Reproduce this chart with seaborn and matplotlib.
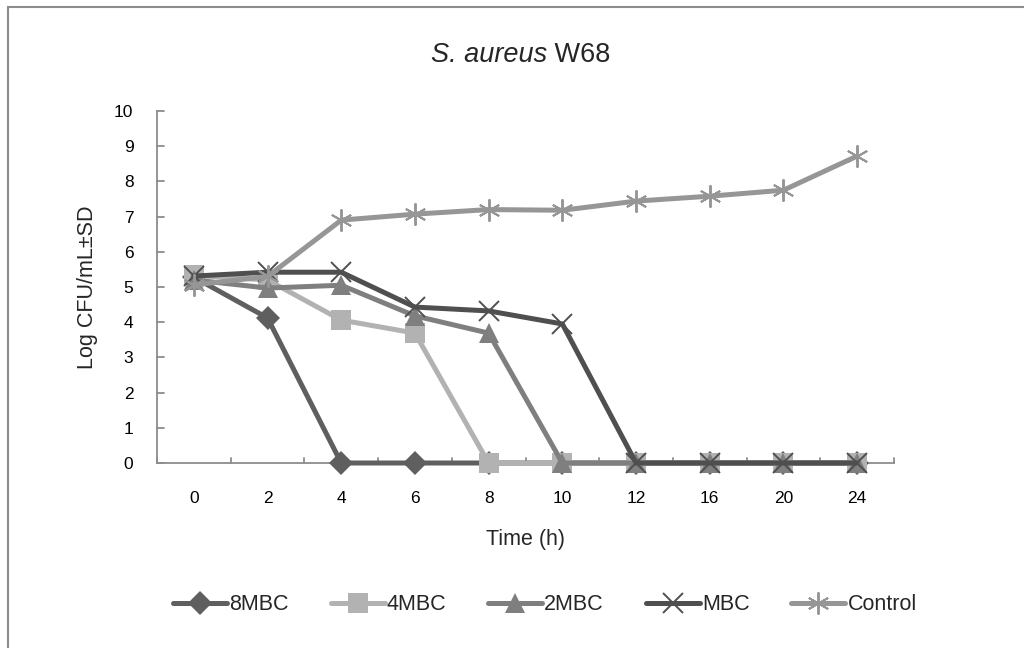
import matplotlib
matplotlib.use("Agg")
import matplotlib.pyplot as plt
import seaborn as sns
import pandas as pd
from matplotlib.patches import Rectangle

time_labels = ["0", "2", "4", "6", "8", "10", "12", "16", "20", "24"]
series_names = ["8MBC", "4MBC", "2MBC", "MBC", "Control"]
v_8mbc = [5.28, 4.12, 0, 0, 0, 0, 0, 0, 0, 0]
v_4mbc = [5.33, 5.20, 4.06, 3.69, 0, 0, 0, 0, 0, 0]
v_2mbc = [5.20, 4.97, 5.05, 4.18, 3.69, 0, 0, 0, 0, 0]
v_mbc = [5.31, 5.42, 5.42, 4.43, 4.32, 3.95, 0, 0, 0, 0]
v_control = [5.06, 5.30, 6.90, 7.07, 7.20, 7.18, 7.44, 7.58, 7.75, 8.72]
y_ticks = [0, 1, 2, 3, 4, 5, 6, 7, 8, 9, 10]

values = [v_8mbc, v_4mbc, v_2mbc, v_mbc, v_control]
rows = []
for name, vals in zip(series_names, values):
    for i, v in enumerate(vals):
        rows.append({"pos": i, "value": v, "series": name})
df = pd.DataFrame(rows)

sns.set_theme(style="white")
plt.rcParams["font.family"] = ["Liberation Sans", "DejaVu Sans"]

colors = {"8MBC": "#5f5f5f", "4MBC": "#b2b2b2", "2MBC": "#7f7f7f",
          "MBC": "#4f4f4f", "Control": "#969696"}
markers = {"8MBC": "D", "4MBC": "s", "2MBC": "^", "MBC": "x", "Control": (6, 2, 0)}
msize = {"8MBC": 12, "4MBC": 14, "2MBC": 14, "MBC": 15, "Control": 16}
mew = {"8MBC": 0, "4MBC": 0, "2MBC": 0, "MBC": 1.4, "Control": 1.4}

fig = plt.figure(figsize=(10.24, 6.48), dpi=100)
ax = fig.add_axes([157 / 1024, (648 - 463) / 648, (894 - 157) / 1024, (463 - 111) / 648])

fig.patches.append(Rectangle((8 / 1024, -0.1), 1.2, 0.1 + (648 - 7) / 648, transform=fig.transFigure,
                             fill=False, edgecolor="#8c8c8c", linewidth=1.5, zorder=0))

for name in series_names:
    sub = df[df["series"] == name]
    sns.lineplot(data=sub, x="pos", y="value", ax=ax, color=colors[name],
                 linewidth=3.6, marker=markers[name], markersize=msize[name],
                 markeredgewidth=mew[name], markeredgecolor=colors[name],
                 markerfacecolor=colors[name], label=name, clip_on=False)

ax.set_xlim(-0.5, len(time_labels) - 0.5)
ax.set_ylim(0, 10)
ax.set_yticks(y_ticks)
ax.set_yticklabels([str(t) for t in y_ticks])
ax.set_xticks(range(len(time_labels)))
ax.set_xticklabels(time_labels)
ax.tick_params(axis="both", length=0, labelsize=12.5, colors="black")
ax.tick_params(axis="y", pad=17)
ax.tick_params(axis="x", pad=20)
# tick marks between categories (Excel style)
for b in [i - 0.5 for i in range(len(time_labels) + 1)]:
    ax.plot([b, b], [0, 0.15], color="#8c8c8c", lw=1.3, clip_on=False, zorder=1)
for t in y_ticks:
    ax.plot([-0.5, -0.41], [t, t], color="#8c8c8c", lw=1.3, clip_on=False, zorder=1)

for s in ["top", "right"]:
    ax.spines[s].set_visible(False)
for s in ["left", "bottom"]:
    ax.spines[s].set_color("#8c8c8c")
    ax.spines[s].set_linewidth(1.3)
    ax.spines[s].set_zorder(1)

ax.set_xlabel("Time (h)", fontsize=15.5)
ax.xaxis.set_label_coords(0.5, -(540 - 463) / (463 - 111))
ax.xaxis.label.set_va("center")
ax.set_ylabel("Log CFU/mL±SD", fontsize=15.5)
ax.yaxis.set_label_coords(-(157 - 88) / (894 - 157), 0.5)
ax.yaxis.label.set_va("center")

ty = (648 - 55) / 648
fig.text(547 / 1024, ty, "S. aureus", fontsize=19.5, style="italic", ha="right", va="center")
fig.text(547 / 1024, ty, " W68", fontsize=19.5, ha="left", va="center")

leg = ax.legend(loc="center", bbox_to_anchor=(545 / 1024, (648 - 605) / 648), bbox_transform=fig.transFigure,
                ncol=5, frameon=False, fontsize=15.5, handlelength=2.5, columnspacing=1.95,
                handletextpad=0.1)

fig.savefig("out.png", dpi=100, facecolor="white")
